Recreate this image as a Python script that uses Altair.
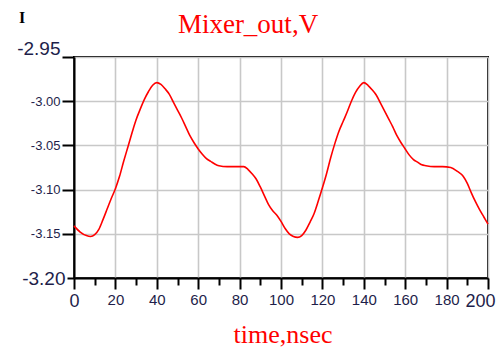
import altair as alt
import pandas as pd

# time (nsec) and Mixer_out (V)
t = [0, 3, 6, 8, 10, 12, 14, 16, 18, 20, 22, 24, 26, 28, 30, 32, 34, 36, 38, 40,
     42, 44, 46, 48, 50, 52, 54, 56, 58, 60, 62, 64, 66, 68, 70, 74, 78, 82, 84, 86,
     88, 90, 92, 94, 96, 98, 100, 102, 104, 106, 108, 110, 112, 114, 116, 118, 120,
     122, 124, 126, 128, 130, 132, 134, 136, 138, 140, 142, 144, 146, 148, 150, 152,
     154, 156, 158, 160, 162, 164, 166, 168, 170, 174, 178, 182, 185, 188, 190, 192,
     194, 196, 198, 200]
v = [-3.141, -3.148, -3.152, -3.153, -3.151, -3.145, -3.134, -3.122, -3.110, -3.099,
     -3.085, -3.068, -3.052, -3.036, -3.021, -3.009, -2.998, -2.989, -2.982, -2.979,
     -2.981, -2.986, -2.992, -3.001, -3.010, -3.019, -3.029, -3.039, -3.047, -3.054,
     -3.060, -3.065, -3.068, -3.071, -3.073, -3.074, -3.074, -3.074, -3.077, -3.082,
     -3.088, -3.097, -3.107, -3.117, -3.124, -3.129, -3.136, -3.144, -3.150, -3.153,
     -3.154, -3.152, -3.146, -3.137, -3.127, -3.113, -3.098, -3.082, -3.064, -3.048,
     -3.034, -3.023, -3.012, -3.000, -2.990, -2.983, -2.979, -2.982, -2.987, -2.993,
     -3.002, -3.011, -3.020, -3.029, -3.039, -3.047, -3.054, -3.061, -3.066, -3.069,
     -3.072, -3.073, -3.074, -3.074, -3.075, -3.079, -3.085, -3.093, -3.104, -3.114,
     -3.123, -3.131, -3.139]

x_ticks = list(range(0, 201, 10))
y_ticks = [-3.20, -3.15, -3.10, -3.05, -3.00, -2.95]

title_text = ["Mixer_out,V"]
x_title = ["time,nsec"]
corner_text = ["I"]

df = pd.DataFrame({"t": t, "v": v})

label_color = "#1e1e4a"
is_major = "datum.value % 20 == 0"
y_end = "abs(datum.value + 2.95) < 0.001 || abs(datum.value + 3.2) < 0.001"

x_axis = alt.Axis(
    values=x_ticks,
    title=None,
    labelExpr="datum.value % 20 == 0 ? datum.label : ''",
    labelOverlap=False,
    labelFlush=False,
    labelFont="Liberation Sans",
    labelFontSize={"condition": {"test": "datum.value == 0 || datum.value == 200", "value": 18}, "value": 15},
    labelOffset={"condition": {"test": "datum.value == 200", "value": -8}, "value": 0},
    labelColor=label_color,
    labelPadding=3,
    tickSize={"condition": {"test": is_major, "value": 11}, "value": 7},
    tickColor="black",
    tickWidth=2,
    domainColor="black",
    domainWidth=2,
    gridColor="#c8c8c8",
    gridWidth=1.6,
    gridOpacity={"condition": {"test": is_major, "value": 1}, "value": 0},
)

y_axis = alt.Axis(
    values=y_ticks,
    format=".2f",
    labelExpr="replace(datum.label, '\u2212', '-')",
    title=None,
    labelFont="Liberation Sans",
    labelFontSize={"condition": {"test": y_end, "value": 19}, "value": 13},
    labelOffset={"condition": {"test": "abs(datum.value + 2.95) < 0.001", "value": -9}, "value": 0},
    labelColor=label_color,
    labelPadding=2,
    tickSize={"condition": {"test": "abs(datum.value + 3.2) < 0.001", "value": 7}, "value": 12},
    tickColor="black",
    tickWidth=2,
    domainColor="black",
    domainWidth=2,
    gridColor="#c8c8c8",
    gridWidth=1.6,
)

line = alt.Chart(df).mark_line(color="#ff0000", strokeWidth=1.6, interpolate="monotone").encode(
    x=alt.X("t:Q", scale=alt.Scale(domain=[0, 200], nice=False, zero=False), axis=x_axis),
    y=alt.Y("v:Q", scale=alt.Scale(domain=[-3.20, -2.95], nice=False, zero=False), axis=y_axis),
)

corner = alt.Chart(pd.DataFrame({"c": corner_text})).mark_text(
    font="Liberation Serif", fontSize=16, fontWeight="bold", color="black",
    align="center", baseline="alphabetic"
).encode(text="c:N", x=alt.value(-52), y=alt.value(-34))

title = alt.Chart(pd.DataFrame({"c": title_text})).mark_text(
    font="Liberation Serif", fontSize=27, color="#ff0000",
    align="center", baseline="alphabetic"
).encode(text="c:N", x=alt.value(174), y=alt.value(-24))

xtitle = alt.Chart(pd.DataFrame({"c": x_title})).mark_text(
    font="Liberation Serif", fontSize=26, color="#ff0000",
    align="center", baseline="alphabetic"
).encode(text="c:N", x=alt.value(209), y=alt.value(286))

chart = alt.layer(line, corner, title, xtitle).properties(
    width=414,
    height=221,
    autosize=alt.AutoSizeParams(type="none"),
    padding={"left": 66, "top": 49, "right": 8, "bottom": 72},
    background="white",
).configure_view(stroke="black", strokeWidth=2)

chart.save("out.html", embed_options={"renderer": "svg", "actions": False})
